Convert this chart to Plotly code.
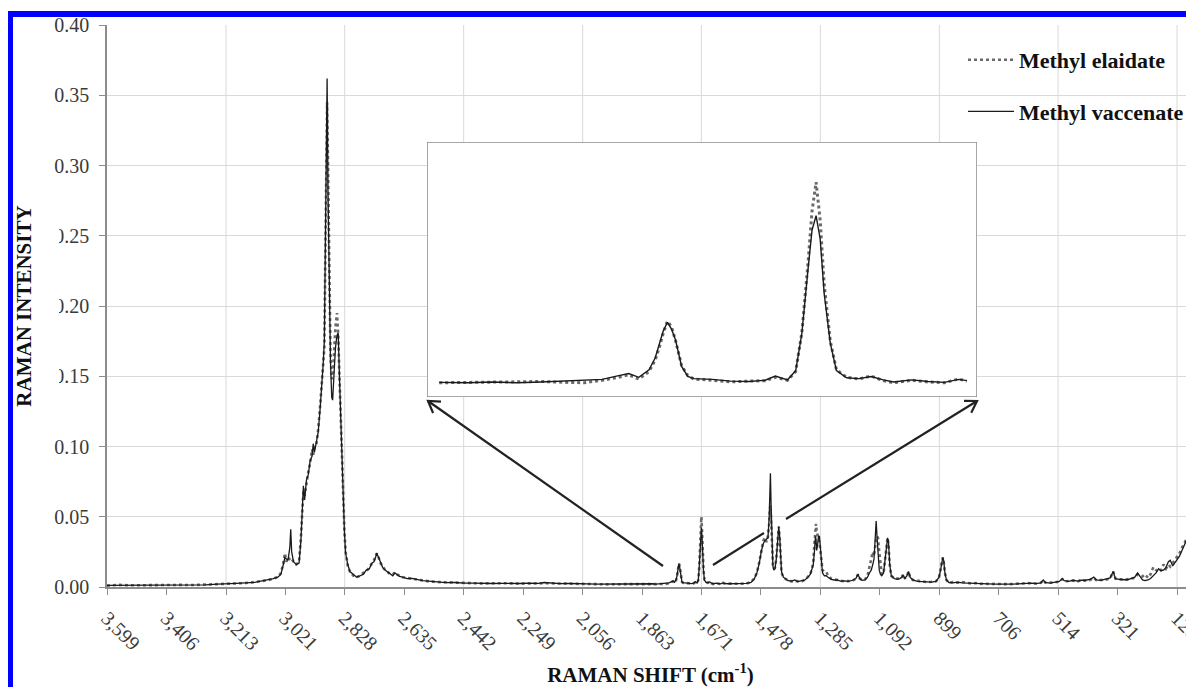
import math
import plotly.graph_objects as go

# ---------------- data ----------------
WAVENUMBER = [
    3599, 3560, 3520, 3480, 3440, 3400, 3360, 3320, 3280, 3240,
    3213, 3180, 3150, 3120, 3100, 3080, 3060, 3045, 3035, 3027,
    3022, 3017, 3012, 3006, 3003, 3000, 2994, 2985, 2976, 2970,
    2966, 2962, 2958, 2952, 2946, 2940, 2934, 2930, 2926, 2920,
    2914, 2908, 2903, 2898, 2894, 2890, 2887, 2885, 2882, 2878,
    2874, 2870, 2867, 2863, 2858, 2853, 2849, 2845, 2841, 2837,
    2833, 2829, 2825, 2818, 2811, 2800, 2789, 2778, 2768, 2758,
    2748, 2740, 2733, 2728, 2724, 2718, 2712, 2705, 2697, 2690,
    2680, 2672, 2665, 2658, 2650, 2640, 2625, 2610, 2594, 2575,
    2555, 2530, 2500, 2470, 2440, 2410, 2380, 2350, 2320, 2290,
    2260, 2230, 2200, 2180, 2160, 2130, 2100, 2070, 2040, 2010,
    1980, 1950, 1920, 1890, 1870, 1856, 1842, 1830, 1818, 1806,
    1794, 1785, 1776, 1769, 1763, 1758, 1753, 1750, 1748, 1746,
    1744, 1742, 1740, 1737, 1734, 1731, 1722, 1713, 1704, 1696,
    1691, 1685, 1681, 1678, 1675, 1673, 1671, 1669, 1667, 1664,
    1661, 1656, 1650, 1644, 1638, 1633, 1624, 1616, 1608, 1601,
    1597, 1585, 1565, 1545, 1525, 1510, 1500, 1491, 1483, 1476,
    1470, 1465, 1460, 1455, 1451, 1449, 1447, 1445, 1442, 1439,
    1436, 1432, 1428, 1423, 1420, 1417, 1414, 1411, 1405, 1400,
    1390, 1378, 1368, 1358, 1345, 1335, 1325, 1318, 1312, 1308,
    1304, 1301, 1299, 1297, 1294, 1291, 1288, 1285, 1282, 1278,
    1272, 1266, 1260, 1250, 1240, 1230, 1220, 1208, 1195, 1180,
    1170, 1163, 1157, 1150, 1140, 1132, 1126, 1120, 1115, 1111,
    1107, 1104, 1101, 1098, 1094, 1090, 1086, 1080, 1074, 1070,
    1067, 1064, 1060, 1055, 1045, 1035, 1027, 1020, 1016, 1011,
    1004, 999, 994, 985, 970, 955, 940, 925, 910, 900,
    895, 891, 888, 885, 881, 876, 868, 855, 840, 825,
    810, 795, 780, 765, 750, 735, 720, 705, 690, 675,
    660, 645, 630, 615, 600, 585, 570, 562, 555, 540,
    525, 510, 500, 494, 480, 465, 450, 440, 425, 410,
    398, 390, 375, 360, 345, 335, 328, 315, 302, 290,
    278, 265, 256, 248, 240, 232, 222, 214, 205, 196,
    188, 180, 172, 164, 156, 150, 142, 135, 128, 120,
    112, 104, 96, 90, 84, 78, 73,
]

METHYL_ELAIDATE = [
    .0010, .0015, .0012, .0014, .0011, .0013, .0015, .0014, .0017, .0018,
    .0022, .0025, .0028, .0035, .0040, .0048, .0058, .0072, .0100, .0170,
    .0240, .0180, .0210, .0200, .0190, .0200, .0180, .0160, .0180, .0350,
    .0580, .0680, .0650, .0750, .0820, .0880, .0980, .0940, .1000, .1010,
    .1120, .1280, .1420, .1550, .1700, .2500, .3300, .3450, .3000, .2200,
    .1650, .1480, .1500, .1650, .1850, .1950, .1800, .1500, .1180, .0900,
    .0620, .0400, .0250, .0150, .0110, .0080, .0070, .0080, .0100, .0110,
    .0140, .0170, .0190, .0220, .0240, .0210, .0170, .0150, .0120, .0110,
    .0090, .0090, .0105, .0090, .0080, .0070, .0065, .0060, .0050, .0048,
    .0040, .0036, .0033, .0030, .0029, .0026, .0025, .0027, .0024, .0026,
    .0024, .0025, .0028, .0030, .0027, .0025, .0023, .0022, .0020, .0021,
    .0019, .0020, .0021, .0021, .0022, .0021, .0022, .0022, .0023, .0024,
    .0022, .0021, .0027, .0033, .0040, .0030, .0048, .0075, .0105, .0140,
    .0168, .0155, .0122, .0062, .0038, .0030, .0027, .0023, .0025, .0026,
    .0034, .0027, .0048, .0140, .0305, .0430, .0500, .0410, .0255, .0120,
    .0052, .0034, .0030, .0037, .0026, .0021, .0027, .0023, .0021, .0030,
    .0025, .0024, .0022, .0023, .0025, .0035, .0060, .0100, .0180, .0270,
    .0330, .0350, .0320, .0360, .0450, .0550, .0580, .0480, .0300, .0160,
    .0130, .0140, .0200, .0350, .0430, .0350, .0200, .0100, .0070, .0060,
    .0045, .0040, .0045, .0040, .0042, .0050, .0070, .0090, .0130, .0180,
    .0320, .0420, .0450, .0400, .0360, .0340, .0320, .0250, .0160, .0120,
    .0110, .0110, .0080, .0060, .0055, .0048, .0045, .0040, .0042, .0045,
    .0060, .0090, .0060, .0050, .0055, .0080, .0140, .0200, .0250, .0220,
    .0300, .0340, .0360, .0350, .0250, .0140, .0090, .0100, .0200, .0300,
    .0350, .0300, .0160, .0080, .0060, .0060, .0060, .0075, .0090, .0060,
    .0080, .0110, .0070, .0050, .0045, .0040, .0035, .0037, .0040, .0070,
    .0120, .0180, .0210, .0180, .0100, .0050, .0030, .0035, .0030, .0035,
    .0030, .0025, .0028, .0022, .0024, .0020, .0022, .0020, .0021, .0020,
    .0022, .0021, .0025, .0028, .0026, .0025, .0030, .0048, .0030, .0030,
    .0033, .0038, .0055, .0040, .0042, .0045, .0040, .0050, .0045, .0050,
    .0065, .0048, .0050, .0052, .0060, .0110, .0060, .0055, .0050, .0055,
    .0058, .0065, .0090, .0080, .0075, .0090, .0065, .0090, .0140, .0120,
    .0105, .0120, .0160, .0130, .0160, .0145, .0170, .0200, .0220, .0240,
    .0280, .0310, .0340, .0370, .0420, .0470, .0500,
]

METHYL_VACCENATE = [
    .0012, .0012, .0016, .0011, .0013, .0014, .0013, .0016, .0015, .0020,
    .0021, .0026, .0030, .0033, .0042, .0050, .0060, .0070, .0090, .0160,
    .0210, .0200, .0190, .0280, .0410, .0250, .0180, .0160, .0170, .0330,
    .0550, .0720, .0620, .0760, .0800, .0900, .0930, .1020, .0960, .1030,
    .1100, .1260, .1400, .1580, .1750, .2600, .3450, .3620, .2800, .2000,
    .1600, .1350, .1330, .1500, .1700, .1790, .1810, .1500, .1200, .0900,
    .0620, .0400, .0240, .0160, .0110, .0090, .0070, .0080, .0090, .0120,
    .0130, .0170, .0180, .0210, .0240, .0210, .0180, .0140, .0120, .0110,
    .0090, .0080, .0100, .0090, .0075, .0070, .0060, .0062, .0052, .0045,
    .0042, .0038, .0031, .0032, .0027, .0028, .0024, .0025, .0026, .0023,
    .0025, .0027, .0026, .0032, .0028, .0024, .0025, .0021, .0022, .0020,
    .0021, .0019, .0022, .0021, .0021, .0022, .0021, .0023, .0021, .0023,
    .0025, .0026, .0029, .0037, .0043, .0034, .0052, .0080, .0110, .0145,
    .0165, .0150, .0123, .0060, .0036, .0031, .0029, .0025, .0024, .0027,
    .0037, .0028, .0050, .0138, .0290, .0385, .0420, .0365, .0233, .0115,
    .0050, .0033, .0031, .0036, .0028, .0023, .0028, .0024, .0022, .0029,
    .0026, .0023, .0024, .0022, .0026, .0033, .0055, .0100, .0170, .0260,
    .0310, .0330, .0340, .0350, .0500, .0700, .0810, .0600, .0350, .0150,
    .0120, .0130, .0200, .0350, .0430, .0360, .0200, .0110, .0070, .0060,
    .0045, .0042, .0050, .0038, .0045, .0050, .0070, .0090, .0130, .0160,
    .0260, .0360, .0340, .0260, .0300, .0360, .0360, .0280, .0160, .0100,
    .0080, .0080, .0070, .0055, .0050, .0050, .0042, .0044, .0040, .0048,
    .0060, .0090, .0060, .0048, .0050, .0070, .0100, .0120, .0160, .0200,
    .0350, .0470, .0350, .0200, .0120, .0090, .0080, .0100, .0200, .0300,
    .0350, .0320, .0160, .0080, .0060, .0055, .0060, .0070, .0085, .0060,
    .0080, .0110, .0070, .0050, .0040, .0038, .0036, .0034, .0040, .0070,
    .0120, .0180, .0210, .0190, .0100, .0050, .0032, .0030, .0035, .0030,
    .0028, .0028, .0024, .0025, .0020, .0023, .0020, .0021, .0019, .0022,
    .0020, .0022, .0024, .0026, .0028, .0024, .0030, .0050, .0032, .0028,
    .0035, .0040, .0060, .0045, .0040, .0048, .0042, .0048, .0048, .0055,
    .0070, .0050, .0048, .0055, .0065, .0110, .0060, .0055, .0052, .0050,
    .0060, .0070, .0100, .0070, .0050, .0045, .0050, .0060, .0080, .0100,
    .0130, .0115, .0120, .0140, .0180, .0190, .0150, .0170, .0190, .0220,
    .0260, .0300, .0340, .0400, .0470, .0530, .0550,
]

X_TICK_VALUES = [3599, 3406, 3213, 3021, 2828, 2635, 2442, 2249, 2056, 1863,
                 1671, 1478, 1285, 1092, 899, 706, 514, 321, 128]
X_TICK_LABELS = ["3,599", "3,406", "3,213", "3,021", "2,828", "2,635", "2,442",
                 "2,249", "2,056", "1,863", "1,671", "1,478", "1,285", "1,092",
                 "899", "706", "514", "321", "128"]
X_GRID_VALUES = X_TICK_VALUES[2::2]
Y_TICK_VALUES = [0.00, 0.05, 0.10, 0.15, 0.20, 0.25, 0.30, 0.35, 0.40]

SERIES_NAMES = ["Methyl elaidate", "Methyl vaccenate"]
INSET_WINDOW = (1597, 1856)

# ---------------- layout constants ----------------
W, H = 1194, 687
OFF = 8                      # page offset of the figure (body margin)
PLOT_L, PLOT_R, PLOT_T, PLOT_B = 107, 1194, 25, 587   # wanted page pixels
ML, MT = PLOT_L - OFF, PLOT_T - OFF
MR = W - (PLOT_R - OFF)
MB = H - (PLOT_B - OFF)
X_RANGE = [3599, 73]
Y_RANGE = [0, 0.40]
INSET_X_RANGE = [1862, 1592]
INSET_Y_RANGE = [-0.0013, 0.0596]
PW, PH = PLOT_R - PLOT_L, PLOT_B - PLOT_T

SERIF = "Liberation Serif, Times New Roman, serif"
DOT_COLOR = "#6a6a6a"
LINE_COLOR = "#1a1a1a"
GRID_COLOR = "#d9d9d9"
AXIS_COLOR = "#8c8c8c"
ARROW_COLOR = "#222222"


def px_to_paper_x(px):
    """page pixel -> paper x"""
    return (px - PLOT_L) / PW


def py_to_paper_y(py):
    """page pixel -> paper y"""
    return (PLOT_B - py) / PH


def seg(p0, p1, width=2.2):
    return dict(type="line", xref="paper", yref="paper",
                x0=px_to_paper_x(p0[0]), y0=py_to_paper_y(p0[1]),
                x1=px_to_paper_x(p1[0]), y1=py_to_paper_y(p1[1]),
                line=dict(color=ARROW_COLOR, width=width), layer="above")


def arrow_head(tail, head, length=13, half_angle=32):
    dx, dy = head[0] - tail[0], head[1] - tail[1]
    n = math.hypot(dx, dy)
    ux, uy = dx / n, dy / n
    pts = []
    for s in (1, -1):
        a = math.radians(half_angle) * s
        rx = ux * math.cos(a) - uy * math.sin(a)
        ry = ux * math.sin(a) + uy * math.cos(a)
        pts.append((head[0] - length * rx, head[1] - length * ry))
    path = "M {} {} L {} {} L {} {}".format(
        px_to_paper_x(pts[0][0]), py_to_paper_y(pts[0][1]),
        px_to_paper_x(head[0]), py_to_paper_y(head[1]),
        px_to_paper_x(pts[1][0]), py_to_paper_y(pts[1][1]))
    return dict(type="path", xref="paper", yref="paper", path=path,
                line=dict(color=ARROW_COLOR, width=2.2), layer="above")


fig = go.Figure()

# main traces
fig.add_trace(go.Scatter(
    x=WAVENUMBER, y=METHYL_ELAIDATE, mode="lines", name=SERIES_NAMES[0],
    line=dict(color=DOT_COLOR, width=2.6, dash="dot"),
    legendgroup="a", xaxis="x", yaxis="y"))
fig.add_trace(go.Scatter(
    x=WAVENUMBER, y=METHYL_VACCENATE, mode="lines", name=SERIES_NAMES[1],
    line=dict(color=LINE_COLOR, width=1.3),
    legendgroup="b", xaxis="x", yaxis="y"))

# inset traces (same data, zoomed window)
lo, hi = INSET_WINDOW
idx = [i for i, w in enumerate(WAVENUMBER) if lo <= w <= hi]
fig.add_trace(go.Scatter(
    x=[WAVENUMBER[i] for i in idx], y=[METHYL_ELAIDATE[i] for i in idx],
    mode="lines", showlegend=False,
    line=dict(color=DOT_COLOR, width=3, dash="dot"), xaxis="x2", yaxis="y2"))
fig.add_trace(go.Scatter(
    x=[WAVENUMBER[i] for i in idx], y=[METHYL_VACCENATE[i] for i in idx],
    mode="lines", showlegend=False,
    line=dict(color=LINE_COLOR, width=1.4), xaxis="x2", yaxis="y2"))

shapes = []
# vertical gridlines (every other category tick)
for v in X_GRID_VALUES:
    shapes.append(dict(type="line", xref="x", yref="paper", x0=v, x1=v, y0=0, y1=1,
                       line=dict(color=GRID_COLOR, width=1), layer="below"))
# inset frame with white fill
shapes.append(dict(type="rect", xref="x2", yref="y2",
                   x0=INSET_X_RANGE[0], x1=INSET_X_RANGE[1],
                   y0=INSET_Y_RANGE[0], y1=INSET_Y_RANGE[1],
                   fillcolor="white", line=dict(color="#8a8a8a", width=1.5), layer="below"))
# arrows from the spectrum to the inset corners (page pixels)
LEFT_TAIL, LEFT_HEAD = (663, 566), (428, 401)
RIGHT_TAIL, RIGHT_BREAK_A, RIGHT_BREAK_B, RIGHT_HEAD = (713, 565), (764, 533), (786, 519), (977, 401)
shapes.append(seg(LEFT_TAIL, LEFT_HEAD))
shapes.append(arrow_head(LEFT_TAIL, LEFT_HEAD))
shapes.append(seg(RIGHT_TAIL, RIGHT_BREAK_A))
shapes.append(seg(RIGHT_BREAK_B, RIGHT_HEAD))
shapes.append(arrow_head(RIGHT_TAIL, RIGHT_HEAD))
# white patch covering the leading digits of some y tick labels (as in the original)
shapes.append(dict(type="rect", xref="paper", yref="paper",
                   x0=px_to_paper_x(8), x1=px_to_paper_x(59),
                   y0=py_to_paper_y(415), y1=py_to_paper_y(200),
                   fillcolor="white", line=dict(width=0), layer="above"))
# blue frame of the cropped figure
shapes.append(dict(type="rect", xref="paper", yref="paper",
                   x0=px_to_paper_x(8), x1=px_to_paper_x(13),
                   y0=py_to_paper_y(H + 5), y1=py_to_paper_y(11),
                   fillcolor="#0000ff", line=dict(width=0), layer="above"))
shapes.append(dict(type="rect", xref="paper", yref="paper",
                   x0=px_to_paper_x(8), x1=px_to_paper_x(W + 5),
                   y0=py_to_paper_y(17), y1=py_to_paper_y(11),
                   fillcolor="#0000ff", line=dict(width=0), layer="above"))

fig.update_layout(
    width=W, height=H,
    margin=dict(l=ML, r=MR, t=MT, b=MB, autoexpand=False),
    paper_bgcolor="white", plot_bgcolor="white",
    font=dict(family=SERIF, color="#333333"),
    showlegend=True,
    legend=dict(x=px_to_paper_x(963), y=py_to_paper_y(39), xanchor="left", yanchor="top",
                bgcolor="rgba(0,0,0,0)", traceorder="grouped", tracegroupgap=20,
                itemwidth=46,
                font=dict(family=SERIF, size=22, color="#111111", weight=700)),
    xaxis=dict(
        range=X_RANGE, tickmode="array", tickvals=X_TICK_VALUES, ticktext=X_TICK_LABELS,
        tickangle=45, ticks="outside", ticklen=6, tickcolor=AXIS_COLOR,
        ticklabelstandoff=4, ticklabeloverflow="allow",
        showgrid=False, zeroline=False, showline=True, linecolor=AXIS_COLOR, linewidth=1.5,
        tickfont=dict(family=SERIF, size=20, color="#3a3a3a"),
        title=dict(text="RAMAN SHIFT (cm<sup>-1</sup>)", standoff=14,
                   font=dict(family=SERIF, size=21, color="#111111", weight=700)),
        automargin=False, domain=[0, 1], anchor="y"),
    yaxis=dict(
        range=Y_RANGE, tickmode="array", tickvals=Y_TICK_VALUES, tickformat=".2f",
        ticks="outside", ticklen=6, tickcolor=AXIS_COLOR, ticklabelstandoff=6,
        showgrid=True, gridcolor=GRID_COLOR, gridwidth=1, zeroline=False,
        showline=True, linecolor=AXIS_COLOR, linewidth=1.5,
        tickfont=dict(family=SERIF, size=20, color="#3a3a3a"),
        title=dict(text="RAMAN INTENSITY", standoff=17,
                   font=dict(family=SERIF, size=21, color="#111111", weight=700)),
        automargin=False, domain=[0, 1], anchor="x"),
    xaxis2=dict(range=INSET_X_RANGE, domain=[px_to_paper_x(427), px_to_paper_x(977)],
                anchor="y2", visible=False, showgrid=False, zeroline=False),
    yaxis2=dict(range=INSET_Y_RANGE, domain=[py_to_paper_y(397), py_to_paper_y(142)],
                anchor="x2", visible=False, showgrid=False, zeroline=False),
    shapes=shapes,
)

fig.write_html("out.html")
